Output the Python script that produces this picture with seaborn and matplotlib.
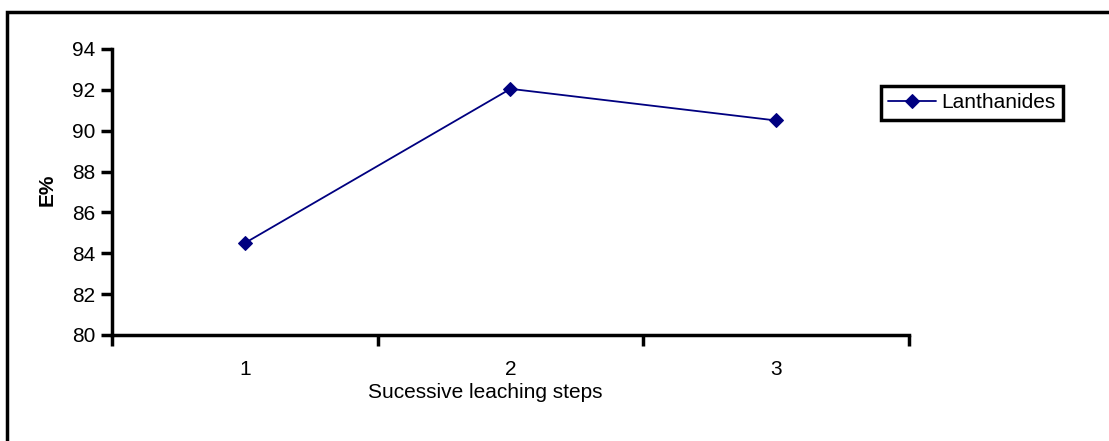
import pandas as pd
import matplotlib
matplotlib.use('Agg')
import matplotlib.pyplot as plt
from matplotlib.patches import Rectangle
import seaborn as sns

# data
steps = [1, 2, 3]
extraction = [84.5, 92.05, 90.5]
series_name = 'Lanthanides'
y_ticks = [80, 82, 84, 86, 88, 90, 92, 94]

sns.set_style('white')
plt.rcParams['font.family'] = ['Liberation Sans', 'DejaVu Sans']
plt.rcParams['font.size'] = 15
plt.rcParams['text.color'] = 'black'
plt.rcParams['xtick.color'] = 'black'
plt.rcParams['ytick.color'] = 'black'

df = pd.DataFrame({'step': steps, 'E': extraction, 'series': series_name})

fig = plt.figure(figsize=(11.09, 4.41), dpi=100)
ax = fig.add_axes([112 / 1109, 1 - 335 / 441, (909 - 112) / 1109, (335 - 49) / 441])

sns.lineplot(data=df, x='step', y='E', hue='series', palette=['#000080'],
             marker='D', markersize=7, markeredgecolor='#000080',
             linewidth=1.3, ax=ax)

# excel-like axes: ticks between categories, labels at the centre
ax.set_xlim(0.5, 3.5)
ax.set_ylim(80, 94)
ax.set_xticks([0.5, 1.5, 2.5, 3.5])
ax.set_xticklabels([])
ax.set_xticks(steps, minor=True)
ax.set_xticklabels([str(s) for s in steps], minor=True)
ax.tick_params(axis='x', which='minor', bottom=True, length=0, pad=18)
ax.tick_params(axis='x', which='major', bottom=True, direction='out',
               length=8, width=2.5)
ax.set_yticks(y_ticks)
ax.tick_params(axis='y', left=True, direction='out', length=8, width=2.5, pad=4)
for side in ['top', 'right']:
    ax.spines[side].set_visible(False)
for side in ['left', 'bottom']:
    ax.spines[side].set_linewidth(2.5)
    ax.spines[side].set_color('black')

ax.set_xlabel('')
ax.set_ylabel('')
fig.text(485 / 1109, 1 - 393 / 441, 'Sucessive leaching steps', ha='center', va='center')
fig.text(47 / 1109, 1 - 190 / 441, 'E%', ha='center', va='center',
         rotation=90, fontweight='bold')

ax.legend_.remove()
leg = fig.legend(loc='upper left', bbox_to_anchor=(881 / 1109, 1 - 86 / 441),
                 bbox_transform=fig.transFigure, frameon=True, fancybox=False,
                 framealpha=1, borderaxespad=0, borderpad=0.35,
                 handlelength=2.3, handletextpad=0.25, labels=[series_name],
                 handles=ax.get_lines()[:1])
leg.get_frame().set_edgecolor('black')
leg.get_frame().set_linewidth(2.5)

# outer chart-area border (cut off at right and bottom in the reference)
fig.patches.append(Rectangle((7 / 1109, -0.1), 1.2, 1 - 12 / 441 + 0.1,
                             transform=fig.transFigure, fill=False,
                             edgecolor='black', linewidth=2.5))

fig.savefig('out.png', dpi=100)
